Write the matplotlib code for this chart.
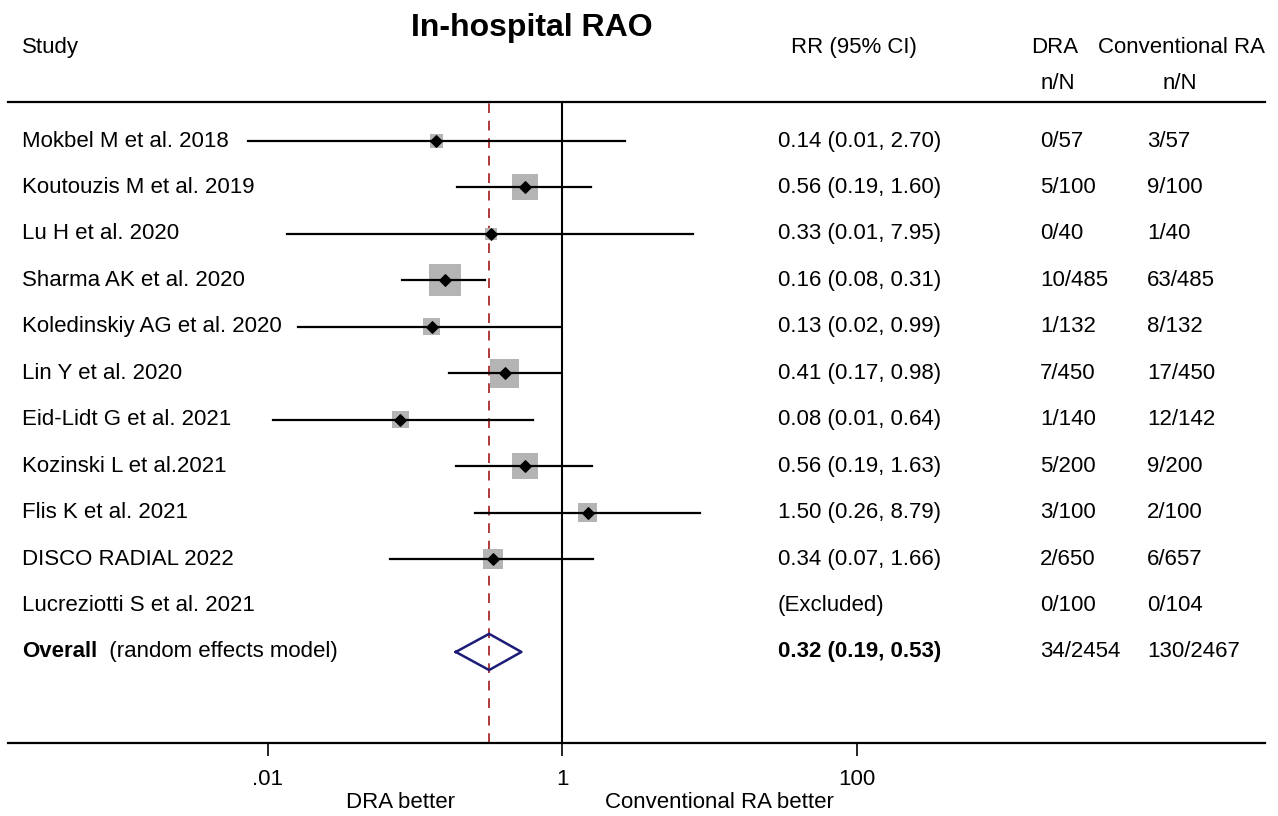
import numpy as np
import matplotlib.pyplot as plt
from matplotlib.transforms import blended_transform_factory

plt.rcParams['font.family'] = ['Liberation Sans', 'DejaVu Sans']

studies = ["Mokbel M et al. 2018", "Koutouzis M et al. 2019", "Lu H et al. 2020",
           "Sharma AK et al. 2020", "Koledinskiy AG et al. 2020", "Lin Y et al. 2020",
           "Eid-Lidt G et al. 2021", "Kozinski L et al.2021", "Flis K et al. 2021",
           "DISCO RADIAL 2022", "Lucreziotti S et al. 2021"]
rr = [0.14, 0.56, 0.33, 0.16, 0.13, 0.41, 0.08, 0.56, 1.50, 0.34, np.nan]
ci_lo = [0.0074, 0.194, 0.0136, 0.082, 0.016, 0.17, 0.0109, 0.19, 0.257, 0.068, np.nan]
ci_hi = [2.68, 1.57, 7.76, 0.30, 0.99, 0.98, 0.64, 1.60, 8.65, 1.62, np.nan]
weights = [3.5, 13.9, 3.0, 21.0, 5.9, 17.3, 5.9, 13.9, 7.4, 8.2, 0.0]
rr_text = ["0.14 (0.01, 2.70)", "0.56 (0.19, 1.60)", "0.33 (0.01, 7.95)",
           "0.16 (0.08, 0.31)", "0.13 (0.02, 0.99)", "0.41 (0.17, 0.98)",
           "0.08 (0.01, 0.64)", "0.56 (0.19, 1.63)", "1.50 (0.26, 8.79)",
           "0.34 (0.07, 1.66)", "(Excluded)"]
dra_nN = ["0/57", "5/100", "0/40", "10/485", "1/132", "7/450", "1/140",
          "5/200", "3/100", "2/650", "0/100"]
conv_nN = ["3/57", "9/100", "1/40", "63/485", "8/132", "17/450", "12/142",
           "9/200", "2/100", "6/657", "0/104"]

overall_rr = 0.32
overall_lo = 0.19
overall_hi = 0.53
overall_text = "0.32 (0.19, 0.53)"
overall_dra = "34/2454"
overall_conv = "130/2467"

W, H = 1278, 816
fig = plt.figure(figsize=(W / 100, H / 100), dpi=100)

# axes spans pixel x 8..1265, y 102..743
ax = fig.add_axes([8 / W, (H - 743) / H, (1265 - 8) / W, (743 - 102) / H])
ax.set_xscale('log')
ppd = 147.25  # pixels per decade
ax.set_xlim(10 ** ((8 - 562) / ppd), 10 ** ((1265 - 562) / ppd))
row0, dy = 141, 46.45
ax.set_ylim((743 - row0) / dy, (102 - row0) / dy)

fs = 16

for s in ['left', 'right']:
    ax.spines[s].set_visible(False)
ax.spines['top'].set_linewidth(1.6)
ax.spines['bottom'].set_linewidth(1.6)
ax.set_yticks([])
ax.set_xticks([0.01, 1, 100])
ax.set_xticklabels([".01", "1", "100"], fontsize=fs)
ax.xaxis.set_minor_locator(plt.NullLocator())
ax.tick_params(axis='x', direction='out', length=9, width=1.2, pad=10)

ax.axvline(1, color='black', lw=1.5, zorder=1)
ax.axvline(overall_rr, color='#b03a3a', lw=1.4, ls=(0, (5, 4)), zorder=1)

n = len(studies)
ys = np.arange(n)
for i in range(n):
    if np.isnan(rr[i]):
        continue
    side_px = 6.98 * np.sqrt(weights[i])
    ax.scatter(rr[i], ys[i], marker='s', s=(side_px * 0.72) ** 2,
               color='#b4b4b4', edgecolor='none', zorder=2)
    ax.plot([ci_lo[i], ci_hi[i]], [ys[i], ys[i]], color='black', lw=1.6, zorder=3)
    ax.scatter(rr[i], ys[i], marker='D', s=34, color='black', zorder=4)

yo = n
ax.plot([overall_lo, overall_rr, overall_hi, overall_rr, overall_lo],
        [yo, yo - 0.39, yo, yo + 0.39, yo], color='#1c1c78', lw=1.8, zorder=3)

tr = blended_transform_factory(fig.transFigure, ax.transData)
for i in range(n):
    ax.text(22 / W, ys[i], studies[i], transform=tr, fontsize=fs, va='center', clip_on=False)
    ax.text(778 / W, ys[i], rr_text[i], transform=tr, fontsize=fs, va='center', clip_on=False)
    ax.text(1040 / W, ys[i], dra_nN[i], transform=tr, fontsize=fs, va='center', clip_on=False)
    ax.text(1147 / W, ys[i], conv_nN[i], transform=tr, fontsize=fs, va='center', clip_on=False)

t1 = ax.text(22 / W, yo, "Overall", transform=tr, fontsize=fs, va='center',
             fontweight='bold', clip_on=False)
ax.annotate("  (random effects model)", xy=(1, 0.5), xycoords=t1, va='center',
            fontsize=fs, annotation_clip=False)
ax.text(778 / W, yo, overall_text, transform=tr, fontsize=fs, va='center',
        fontweight='bold', clip_on=False)
ax.text(1040 / W, yo, overall_dra, transform=tr, fontsize=fs, va='center', clip_on=False)
ax.text(1147 / W, yo, overall_conv, transform=tr, fontsize=fs, va='center', clip_on=False)


# headers
def ypx(p):
    return (p - row0) / dy


fig.text(532 / W, 1 - 28 / H, "In-hospital RAO", fontsize=23, fontweight='bold',
         ha='center', va='center')
ax.text(22 / W, ypx(47), "Study", transform=tr, fontsize=fs, va='center', clip_on=False)
ax.text(854 / W, ypx(47), "RR (95% CI)", transform=tr, fontsize=fs, va='center',
        ha='center', clip_on=False)
ax.text(1055 / W, ypx(47), "DRA", transform=tr, fontsize=fs, va='center',
        ha='center', clip_on=False)
ax.text(1182 / W, ypx(47), "Conventional RA", transform=tr, fontsize=fs, va='center',
        ha='center', clip_on=False)
ax.text(1058 / W, ypx(83), "n/N", transform=tr, fontsize=fs, va='center',
        ha='center', clip_on=False)
ax.text(1180 / W, ypx(83), "n/N", transform=tr, fontsize=fs, va='center',
        ha='center', clip_on=False)

fig.text(401 / W, 1 - 802 / H, "DRA better", fontsize=fs, ha='center', va='center')
fig.text(719 / W, 1 - 802 / H, "Conventional RA better", fontsize=fs, ha='center', va='center')

fig.savefig("out.png", dpi=100)
